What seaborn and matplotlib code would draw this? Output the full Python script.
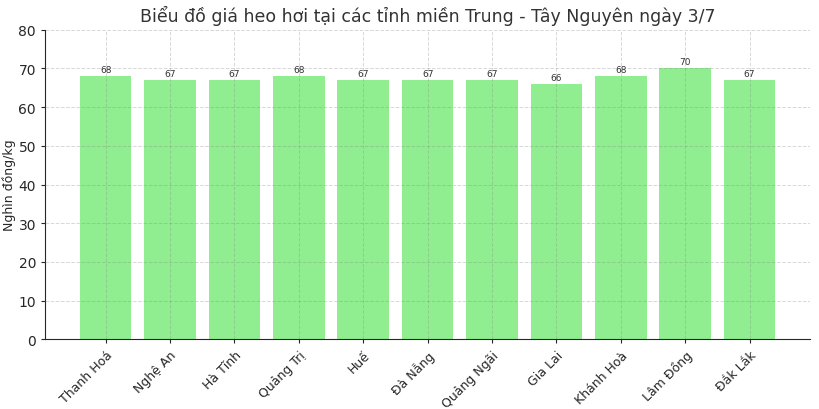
import matplotlib
matplotlib.use("Agg")
import matplotlib.pyplot as plt
import seaborn as sns
import pandas as pd

provinces = ["Thanh Hoá", "Nghệ An", "Hà Tĩnh", "Quảng Trị", "Huế", "Đà Nẵng",
             "Quảng Ngãi", "Gia Lai", "Khánh Hoà", "Lâm Đồng", "Đắk Lắk"]
prices = [68, 67, 67, 68, 67, 67, 67, 66, 68, 70, 67]

df = pd.DataFrame({"province": provinces, "price": prices})

sns.set_style("white")
plt.rcParams['font.family'] = ['DejaVu Sans']

fig, ax = plt.subplots(figsize=(8.2, 4.1), dpi=100)
sns.barplot(data=df, x="province", y="price", color="lightgreen", saturation=1,
            width=0.8, linewidth=0, edgecolor="none", ax=ax)

for i, v in enumerate(prices):
    ax.text(i, v + 0.6, str(v), ha="center", va="bottom", fontsize=6.5, color="#333333")

n = len(provinces)
pad = 0.05 * (n - 1 + 0.8)
ax.set_xlim(-0.4 - pad, n - 1 + 0.4 + pad)
ax.set_ylim(0, 80)
ax.set_title("Biểu đồ giá heo hơi tại các tỉnh miền Trung - Tây Nguyên ngày 3/7",
             fontsize=12.5, color="#333333")
ax.set_ylabel("Nghìn đồng/kg", fontsize=9, labelpad=2)
ax.set_xlabel("")
ax.tick_params(axis="x", labelrotation=45, labelsize=9)
for lbl in ax.get_xticklabels():
    lbl.set_ha("right")
    lbl.set_rotation_mode("anchor")
ax.tick_params(axis="y", labelsize=10)
ax.tick_params(axis="both", length=3, width=0.8, direction="out", left=True, bottom=True)
ax.grid(True, linestyle="--", color="gray", alpha=0.3, linewidth=0.7)
ax.set_axisbelow(False)
sns.despine(ax=ax)

fig.subplots_adjust(left=0.055, right=0.988, top=0.925, bottom=0.17)
fig.savefig("out.png", dpi=100)
